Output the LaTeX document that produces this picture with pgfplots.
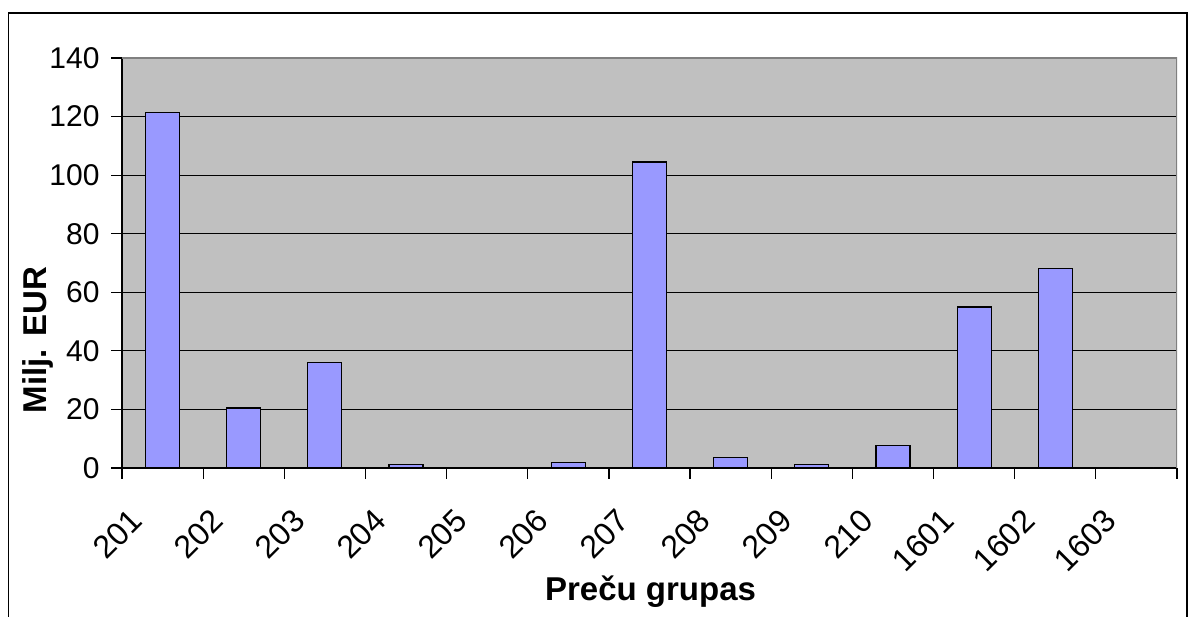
\documentclass[border=0pt]{standalone}
\usepackage{fontspec}
\setmainfont{Liberation Sans}
\usepackage{pgfplots}
\pgfplotsset{compat=1.18}
\definecolor{plotbg}{HTML}{C0C0C0}
\definecolor{barfill}{HTML}{9999FF}
\definecolor{framegray}{HTML}{808080}
\newcommand{\xt}[1]{\mbox{\fontsize{32}{38}\selectfont #1}}
\begin{document}
\begin{tikzpicture}[x=1pt,y=1pt]
\path[use as bounding box] (0,0) rectangle (1188,617);
\draw[line width=1.5pt] (8.5,0) -- (8.5,604) -- (1187,604) -- (1187,0);
\begin{axis}[
  at={(122pt,149pt)}, anchor=south west,
  scale only axis, width=1055pt, height=410pt,
  xmin=-0.5, xmax=12.5, ymin=0, ymax=140,
  axis background/.style={fill=plotbg},
  axis x line*=bottom, axis y line*=left,
  axis line style={-, black, line width=1.2pt},
  ytick={0,20,40,60,80,100,120,140},
  xtick={-0.5,0.5,...,12.5},
  xticklabels={},
  extra x ticks={0,1,2,3,4,5,6,7,8,9,10,11,12},
  extra x tick labels={\xt{201},\xt{202},\xt{203},\xt{204},\xt{205},\xt{206},\xt{207},\xt{208},\xt{209},\xt{210},\xt{1601},\xt{1602},\xt{1603}},
  extra x tick style={major tick style={draw=none}},
  tick align=outside,
  major tick length=11pt,
  tick style={black, line width=1.2pt},
  ymajorgrids,
  grid style={black, line width=1.2pt},
  /pgf/number format/assume math mode=true,
  yticklabel style={font=\fontsize{30}{36}\selectfont, xshift=-8pt},
  xticklabel style={inner sep=0pt, xshift=-34pt, yshift=-28pt, rotate=45, anchor=north east},
  xlabel={\textbf{Preču grupas}},
  ylabel={\textbf{Milj. EUR}},
  label style={font=\fontsize{33}{40}\selectfont},
  xlabel style={at={(axis description cs:0.501,-0.322)}, anchor=base},
  ylabel style={at={(axis description cs:-0.0796,0.312)}, anchor=center, rotate=0},
]
\addplot[ybar, bar width=34pt, fill=barfill, draw=black, line width=1.2pt]
  coordinates {(0,121.5) (1,20.5) (2,36) (3,1.2) (4,0) (5,1.8) (6,104.5) (7,3.5) (8,1.2) (9,7.6) (10,55) (11,68) (12,0)};
\draw[framegray, line width=1.5pt] (axis description cs:0,1) -- (axis description cs:1,1) -- (axis description cs:1,0);
\end{axis}
\end{tikzpicture}
\end{document}
